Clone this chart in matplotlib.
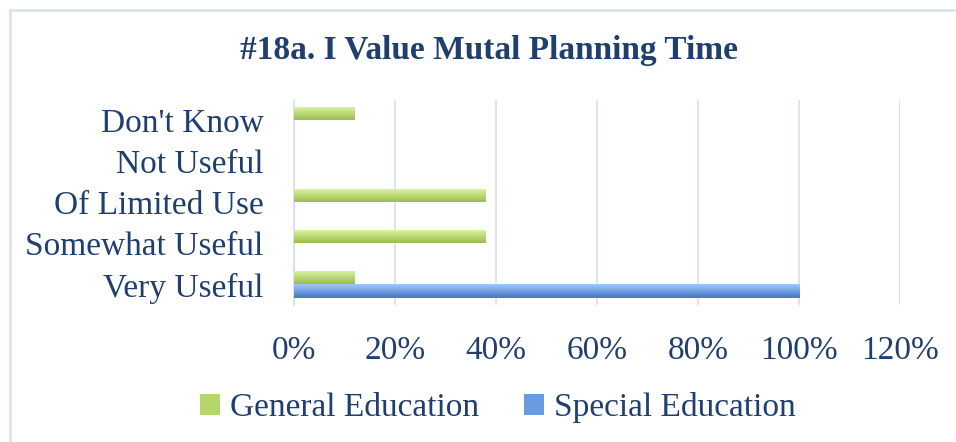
import numpy as np
import matplotlib.pyplot as plt
from matplotlib.patches import Patch
from matplotlib.lines import Line2D

categories = ["Very Useful", "Somewhat Useful", "Of Limited Use", "Not Useful", "Don't Know"]
general_ed = [12, 38, 38, 0, 12]
special_ed = [100, 0, 0, 0, 0]
x_ticks = [0, 20, 40, 60, 80, 100, 120]

text_color = "#1F3F6E"
font = "Liberation Serif"


def gradient_bars(ax, bars, top_color, bottom_color):
    # fill each bar with a vertical gradient, clipped to the bar shape
    cmap = plt.matplotlib.colors.LinearSegmentedColormap.from_list(
        "g", [bottom_color, top_color])
    grad = np.linspace(0, 1, 64).reshape(-1, 1)
    for b in bars:
        w = b.get_width()
        if w <= 0:
            continue
        x0, y0, h = b.get_x(), b.get_y(), b.get_height()
        im = ax.imshow(grad, cmap=cmap, aspect="auto", origin="lower",
                       extent=[x0, x0 + w, y0, y0 + h], zorder=3)
        im.set_clip_path(b)
        b.set_facecolor("none")


fig = plt.figure(figsize=(9.56, 4.42), dpi=100)
ax = fig.add_axes([0.3075, 0.31, 0.634, 0.464])

y = np.arange(len(categories))
h = 0.33
g_bars = ax.barh(y + h / 2, general_ed, height=h, color="#B5D66B", zorder=3, linewidth=0)
s_bars = ax.barh(y - h / 2, special_ed, height=h, color="#5B8FD9", zorder=3, linewidth=0)
gradient_bars(ax, g_bars, "#DDF7A6", "#9BBD4E")
gradient_bars(ax, s_bars, "#A3C8F7", "#3F77C8")

ax.set_xlim(0, 120)
ax.set_ylim(-0.5, len(categories) - 0.5)
ax.set_xticks(x_ticks)
ax.set_xticklabels([f"{t}%" for t in x_ticks])
ax.set_yticks(y)
ax.set_yticklabels(categories)
ax.tick_params(length=0, labelsize=24, labelcolor=text_color)
ax.tick_params(axis="y", pad=22)
ax.tick_params(axis="x", pad=22)
for lab in ax.get_xticklabels() + ax.get_yticklabels():
    lab.set_fontfamily(font)

ax.grid(axis="x", color="#D5DFEE", linewidth=1.2, zorder=0)
for s in ["top", "right", "bottom"]:
    ax.spines[s].set_visible(False)
ax.spines["left"].set_color("#D5DFEE")
ax.spines["left"].set_linewidth(1.2)

fig.text(0.512, 0.885, "#18a. I Value Mutal Planning Time", ha="center", va="center",
         fontsize=24, fontweight="bold", color=text_color, fontfamily=font)

handles = [Patch(facecolor="#B5D66B", label="General Education"),
           Patch(facecolor="#6A9BE0", label="Special Education")]
fig.legend(handles=handles, loc="center", bbox_to_anchor=(0.521, 0.078), ncol=2,
           frameon=False, handlelength=0.6, handleheight=0.6, handletextpad=0.3,
           columnspacing=1.35, prop={"family": font, "size": 24}, labelcolor=text_color)

# light border lines along the top and left of the chart area
fig.lines.append(Line2D([0.0105, 1.0], [0.977, 0.977], transform=fig.transFigure,
                        color="#D9E4F2", linewidth=2))
fig.lines.append(Line2D([0.0105, 0.0105], [0.0, 0.977], transform=fig.transFigure,
                        color="#D9E4F2", linewidth=2))

fig.savefig("out.png", dpi=100)
